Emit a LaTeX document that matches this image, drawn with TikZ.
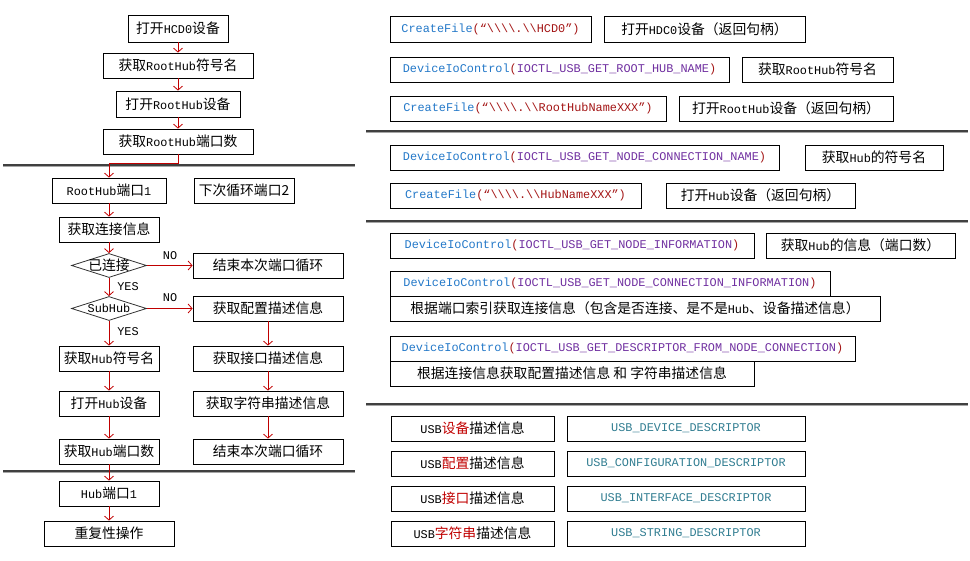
\documentclass[tikz,border=0pt]{standalone}
\usepackage{fontspec}
\setmainfont{Noto Sans CJK SC}
\setmonofont{Liberation Mono}[Scale=0.86]
\usetikzlibrary{arrows.meta,shapes.geometric}
\definecolor{cred}{RGB}{192,0,0}
\definecolor{cblue}{RGB}{35,120,200}
\definecolor{cstr}{RGB}{163,21,21}
\definecolor{cpur}{RGB}{112,48,160}
\definecolor{cteal}{RGB}{49,125,145}
\newcommand\m[1]{{\ttfamily #1}}
\newcommand\bs{\textbackslash}
\newcommand\fnc[1]{\textcolor{cblue}{\ttfamily #1}}
\newcommand\strc[1]{\textcolor{cstr}{\ttfamily #1}}
\newcommand\ioc[1]{\textcolor{cpur}{\ttfamily #1}}
\newcommand\rz[1]{\textcolor{cred}{#1}}
\newcommand\tl[1]{\textcolor{cteal}{\ttfamily #1}}
\newcommand\bxx[6]{\node[bx,minimum width={(#4-#2)*1pt},minimum height={(#5-#3)*1pt}] (#1) at ({(#2+#4)/2},{(#3+#5)/2}) {#6};}
\newcommand\hln[3]{\draw[line width=1.5pt,black!75] (#1,#3) -- (#2,#3);\draw[line width=1pt,black!35] (#1,#3+1.5) -- (#2,#3+1.5);}
\tikzset{
  bx/.style={draw=black,line width=0.8pt,inner sep=0pt,align=center},
  dia/.style={draw=black!80,line width=0.8pt,shape=diamond,inner sep=0pt,minimum width=75pt,minimum height=24pt},
  arr/.style={draw=cred,line width=0.8pt,-{Straight Barb[length=4pt,width=9pt]}},
  lab/.style={inner sep=0pt,font=\fontsize{13.8}{16}\selectfont\ttfamily}
}
\begin{document}
\begin{tikzpicture}[x=1pt,y=-1pt,font=\fontsize{13.8}{16}\selectfont]
\useasboundingbox (0,0) rectangle (970,561);
% separator lines
\hln{3}{355}{165}
\hln{3}{355}{471}
\hln{366}{968}{131}
\hln{366}{968}{221}
\hln{366}{968}{404}
% ---------- left flow ----------
\bxx{a1}{128}{15}{228}{42}{打开\m{HCD0}设备}
\bxx{a2}{103}{53}{253}{78}{获取\m{RootHub}符号名}
\bxx{a3}{116}{91}{240}{117}{打开\m{RootHub}设备}
\bxx{a4}{103}{129}{253}{154}{获取\m{RootHub}端口数}
\bxx{b1}{52}{178}{166}{203}{\m{RootHub}端口\m{1}}
\bxx{b0}{194}{178}{294}{203}{下次循环端口2}
\bxx{b2}{59}{217}{159}{242}{获取连接信息}
\node[dia] (c1) at (109,265.5) {};
\node[inner sep=0pt] (c1t) at (c1.center) {已连接};
\node[dia] (c2) at (109,308.5) {};
\node[inner sep=0pt] (c2t) at (c2.center) {\m{SubHub}};
\bxx{e1}{193}{253}{343}{278}{结束本次端口循环}
\bxx{e2}{193}{296}{343}{321}{获取配置描述信息}
\bxx{e3}{193}{346}{343}{371}{获取接口描述信息}
\bxx{e4}{193}{391}{343}{416}{获取字符串描述信息}
\bxx{e5}{193}{439}{343}{464}{结束本次端口循环}
\bxx{h1}{59}{346}{159}{371}{获取\m{Hub}符号名}
\bxx{h2}{59}{391}{159}{416}{打开\m{Hub}设备}
\bxx{h3}{59}{439}{159}{464}{获取\m{Hub}端口数}
\bxx{h4}{59}{481}{159}{506}{\m{Hub}端口\m{1}}
\bxx{h5}{44}{521}{174}{546}{重复性操作}
% labels
\node[lab] (no1) at (170,256) {NO};
\node[lab] (no2) at (170,298) {NO};
\node[lab] (yes1) at (128,287) {YES};
\node[lab] (yes2) at (128,332) {YES};
% arrows
\draw[arr] (a1.south) -- (a2.north);
\draw[arr] (a2.south) -- (a3.north);
\draw[arr] (a3.south) -- (a4.north);
\draw[arr] (a4.south) -- ++(0,9) -| (b1.north);
\draw[arr] (b1.south) -- (b2.north);
\draw[arr] (b2.south) -- (c1.north);
\draw[arr] (c1.south) -- (c2.north);
\draw[arr] (c2.south) -- (h1.north);
\draw[arr] (c1.east) -- (c1.east -| e1.west);
\draw[arr] (c2.east) -- (c2.east -| e2.west);
\draw[arr] (e2.south) -- (e3.north);
\draw[arr] (e3.south) -- (e4.north);
\draw[arr] (e4.south) -- (e5.north);
\draw[arr] (h1.south) -- (h2.north);
\draw[arr] (h2.south) -- (h3.north);
\draw[arr] (h3.south) -- (h4.north);
\draw[arr] (h4.south) -- (h5.north);
% ---------- right side ----------
\bxx{r1a}{390}{16}{591}{42}{\fnc{CreateFile}\strc{(“\bs\bs\bs\bs.\bs\bs HCD0”)}}
\bxx{r1b}{604}{16}{805}{42}{打开\m{HDC0}设备（返回句柄）}
\bxx{r2a}{390}{57}{729}{82}{\fnc{DeviceIoControl}\strc{(}\ioc{IOCTL\_USB\_GET\_ROOT\_HUB\_NAME}\strc{)}}
\bxx{r2b}{742}{57}{893}{82}{获取\m{RootHub}符号名}
\bxx{r3a}{390}{96}{666}{121}{\fnc{CreateFile}\strc{(“\bs\bs\bs\bs.\bs\bs RootHubNameXXX”)}}
\bxx{r3b}{679}{96}{893}{121}{打开\m{RootHub}设备（返回句柄）}
\bxx{r4a}{390}{145}{779}{170}{\fnc{DeviceIoControl}\strc{(}\ioc{IOCTL\_USB\_GET\_NODE\_CONNECTION\_NAME}\strc{)}}
\bxx{r4b}{805}{145}{943}{170}{获取\m{Hub}的符号名}
\bxx{r5a}{390}{183}{641}{208}{\fnc{CreateFile}\strc{(“\bs\bs\bs\bs.\bs\bs HubNameXXX”)}}
\bxx{r5b}{666}{183}{855}{208}{打开\m{Hub}设备（返回句柄）}
\bxx{r6a}{390}{233}{754}{258}{\fnc{DeviceIoControl}\strc{(}\ioc{IOCTL\_USB\_GET\_NODE\_INFORMATION}\strc{)}}
\bxx{r6b}{766}{233}{955}{258}{获取\m{Hub}的信息（端口数）}
\bxx{r7a}{390}{271}{830}{296}{\fnc{DeviceIoControl}\strc{(}\ioc{IOCTL\_USB\_GET\_NODE\_CONNECTION\_INFORMATION}\strc{)}}
\bxx{r7b}{390}{296}{880}{321}{根据端口索引获取连接信息（包含是否连接、是不是\m{Hub}、设备描述信息）}
\bxx{r8a}{390}{336}{855}{361}{\fnc{DeviceIoControl}\strc{(}\ioc{IOCTL\_USB\_GET\_DESCRIPTOR\_FROM\_NODE\_CONNECTION}\strc{)}}
\bxx{r8b}{390}{361}{754}{386}{根据连接信息获取配置描述信息 和 字符串描述信息}
% descriptors
\bxx{d1a}{391}{416}{554}{441}{\m{USB}\rz{设备}描述信息}
\bxx{d1b}{567}{416}{805}{441}{\tl{USB\_DEVICE\_DESCRIPTOR}}
\bxx{d2a}{391}{451}{554}{476}{\m{USB}\rz{配置}描述信息}
\bxx{d2b}{567}{451}{805}{476}{\tl{USB\_CONFIGURATION\_DESCRIPTOR}}
\bxx{d3a}{391}{486}{554}{511}{\m{USB}\rz{接口}描述信息}
\bxx{d3b}{567}{486}{805}{511}{\tl{USB\_INTERFACE\_DESCRIPTOR}}
\bxx{d4a}{391}{521}{554}{546}{\m{USB}\rz{字符串}描述信息}
\bxx{d4b}{567}{521}{805}{546}{\tl{USB\_STRING\_DESCRIPTOR}}
\end{tikzpicture}
\end{document}
